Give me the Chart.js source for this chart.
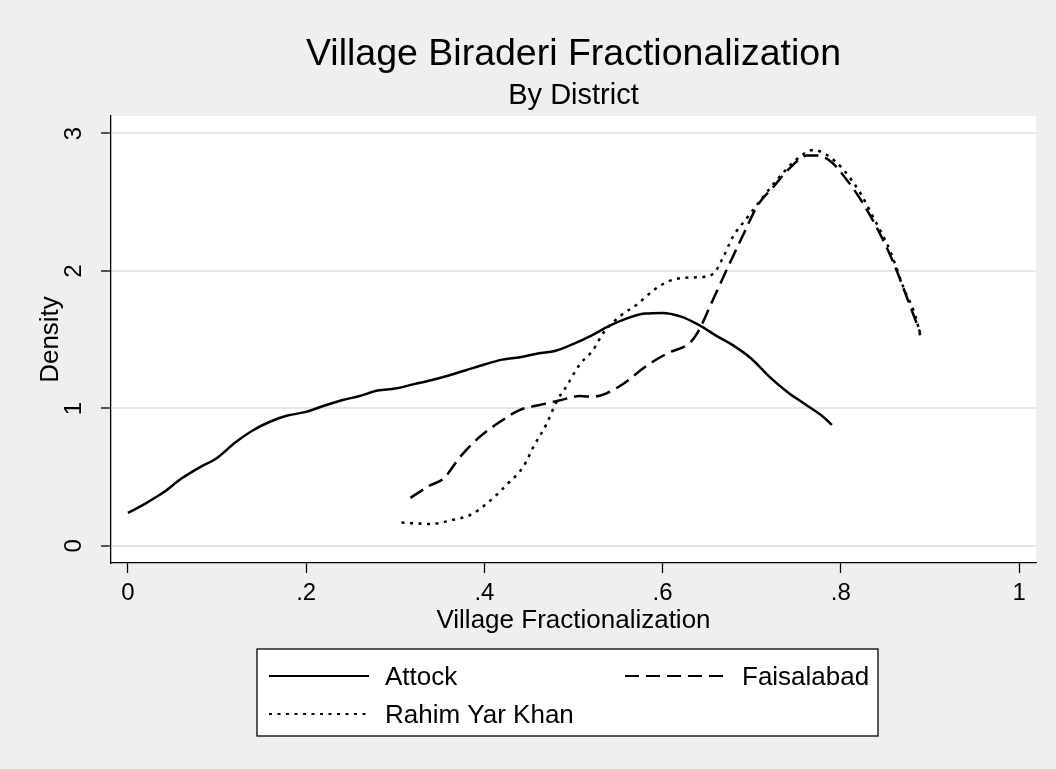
<!DOCTYPE html>
<html>
<head>
<meta charset="utf-8">
<script src="https://cdn.jsdelivr.net/npm/chart.js@4"></script>
<style>
  html, body { margin: 0; padding: 0; background: #efefef; }
  #wrap { width: 1056px; height: 769px; }
</style>
</head>
<body>
<div id="wrap"><canvas id="chart" width="1056" height="769"></canvas></div>
<script>
// ── Data ──────────────────────────────────────────────────────
const xTicks = [0, 0.2, 0.4, 0.6, 0.8, 1];
const xTickLabels = ['0', '.2', '.4', '.6', '.8', '1'];
const yTicks = [0, 1, 2, 3];
const yTickLabels = ['0', '1', '2', '3'];

const seriesNames = ['Attock', 'Faisalabad', 'Rahim Yar Khan'];

const attockX = [0, .02, .04, .06, .08, .10, .12, .14, .16, .18, .20, .22, .24, .26, .28, .30,
                 .32, .34, .36, .38, .40, .42, .44, .46, .48, .50, .52, .54, .56, .58, .60,
                 .62, .64, .66, .68, .70, .72, .74, .76, .78, .79];
const attockY = [.24, .31, .39, .49, .57, .64, .75, .84, .905, .95, .975, 1.02, 1.06, 1.09, 1.13, 1.145,
                 1.175, 1.205, 1.24, 1.28, 1.32, 1.355, 1.372, 1.40, 1.42, 1.47, 1.53, 1.60, 1.655, 1.69, 1.695,
                 1.67, 1.61, 1.53, 1.455, 1.36, 1.23, 1.12, 1.03, .94, .88];

const faisalX = [.317, .339, .354, .373, .395, .418, .44, .462, .485, .507, .522, .537, .556, .582, .605,
                 .631, .640, .653, .672, .691, .706, .724, .743, .762, .773, .788, .807, .825, .844, .859, .874, .889];
const faisalY = [.35, .44, .49, .65, .795, .905, .99, 1.025, 1.06, 1.09, 1.085, 1.11, 1.18, 1.31, 1.40,
                 1.48, 1.56, 1.74, 2.01, 2.27, 2.47, 2.61, 2.75, 2.84, 2.84, 2.80, 2.66, 2.49, 2.27, 2.06, 1.81, 1.55];

const rahimX = [.307, .339, .365, .384, .403, .425, .444, .455, .47, .481, .492, .507, .522, .533, .552, .571,
                .59, .605, .623, .642, .657, .668, .679, .694, .713, .732, .75, .769, .784, .803, .822, .836,
                .855, .87, .885, .889];
const rahimY = [.17, .16, .19, .225, .31, .445, .58, .72, .89, 1.05, 1.16, 1.32, 1.425, 1.545, 1.67, 1.755,
                1.86, 1.92, 1.95, 1.955, 1.98, 2.10, 2.25, 2.38, 2.54, 2.69, 2.81, 2.88, 2.845, 2.735, 2.565, 2.395,
                2.15, 1.885, 1.645, 1.53];

// ── Style ─────────────────────────────────────────────────────
const FONT = '"Liberation Sans", Arial, Helvetica, sans-serif';
const BG = '#efefef';
const GRID = '#e6e6e6';
const DASH = [15, 7];
const DOT = [3, 5.5];

function pairs(xs, ys) {
    return xs.map((x, i) => ({ x: x, y: ys[i] }));
}

// ── Text, background and legend drawn around the plot ─────────
const stataDecor = {
    id: 'stataDecor',
    beforeDraw(chart) {
        const { ctx, chartArea: a } = chart;
        ctx.save();
        ctx.fillStyle = BG;
        ctx.fillRect(0, 0, chart.width, chart.height);
        ctx.fillStyle = '#ffffff';
        ctx.fillRect(a.left, a.top, a.right - a.left, a.bottom - a.top);
        ctx.restore();
    },
    afterDraw(chart) {
        const { ctx, chartArea: a } = chart;
        const xs = chart.scales.x, ys = chart.scales.y;
        const cx = (a.left + a.right) / 2;
        ctx.save();
        ctx.fillStyle = '#000';
        ctx.textBaseline = 'alphabetic';

        // titles
        ctx.textAlign = 'center';
        ctx.font = '37.5px ' + FONT;
        ctx.fillText('Village Biraderi Fractionalization', cx, 65);
        ctx.font = '29px ' + FONT;
        ctx.fillText('By District', cx, 104);

        // x tick labels + title
        ctx.font = '24px ' + FONT;
        xTicks.forEach((v, i) => ctx.fillText(xTickLabels[i], xs.getPixelForValue(v), 600));
        ctx.font = '26px ' + FONT;
        ctx.fillText('Village Fractionalization', cx, 628);

        // y tick labels (rotated) + title
        ctx.font = '24px ' + FONT;
        yTicks.forEach((v, i) => {
            ctx.save();
            ctx.translate(81, ys.getPixelForValue(v));
            ctx.rotate(-Math.PI / 2);
            ctx.fillText(yTickLabels[i], 0, 0);
            ctx.restore();
        });
        ctx.save();
        ctx.font = '26px ' + FONT;
        ctx.translate(58, (a.top + a.bottom) / 2);
        ctx.rotate(-Math.PI / 2);
        ctx.fillText('Density', 0, 0);
        ctx.restore();

        // legend box
        ctx.fillStyle = '#fff';
        ctx.fillRect(257, 649, 621, 87);
        ctx.strokeStyle = '#000';
        ctx.lineWidth = 1.3;
        ctx.strokeRect(257, 649, 621, 87);

        const items = [
            { name: seriesNames[0], dash: [], lx: 269, tx: 385, y: 676 },
            { name: seriesNames[1], dash: [14, 7], lx: 625, tx: 742, y: 676 },
            { name: seriesNames[2], dash: DOT, lx: 269, tx: 385, y: 714 }
        ];
        ctx.font = '26px ' + FONT;
        ctx.textAlign = 'left';
        items.forEach(it => {
            ctx.beginPath();
            ctx.setLineDash(it.dash);
            ctx.lineWidth = 2;
            ctx.moveTo(it.lx, it.y);
            ctx.lineTo(it.lx + 100, it.y);
            ctx.stroke();
            ctx.setLineDash([]);
            ctx.fillStyle = '#000';
            ctx.fillText(it.name, it.tx, it.y + 9);
        });
        ctx.restore();
    }
};

// ── Chart ─────────────────────────────────────────────────────
const ctx = document.getElementById('chart').getContext('2d');
new Chart(ctx, {
    type: 'scatter',
    data: {
        datasets: [
            { label: seriesNames[0], data: pairs(attockX, attockY), borderDash: [] },
            { label: seriesNames[1], data: pairs(faisalX, faisalY), borderDash: DASH },
            { label: seriesNames[2], data: pairs(rahimX, rahimY), borderDash: DOT }
        ].map(d => Object.assign(d, {
            showLine: true,
            borderColor: '#000',
            borderWidth: 2.5,
            pointRadius: 0,
            cubicInterpolationMode: 'monotone',
            fill: false
        }))
    },
    options: {
        responsive: false,
        animation: false,
        events: [],
        layout: { padding: { left: 101, top: 116, right: 20, bottom: 196 } },
        plugins: {
            legend: { display: false },
            title: { display: false },
            tooltip: { enabled: false }
        },
        scales: {
            x: {
                type: 'linear',
                min: -0.019,
                max: 1.019,
                afterBuildTicks: s => { s.ticks = xTicks.map(v => ({ value: v })); },
                ticks: { display: false },
                grid: { color: 'transparent', tickColor: '#000', tickLength: 10, tickWidth: 1.3 },
                border: { display: true, color: '#000', width: 1.3 }
            },
            y: {
                type: 'linear',
                min: -0.124,
                max: 3.127,
                afterBuildTicks: s => { s.ticks = yTicks.map(v => ({ value: v })); },
                ticks: { display: false },
                grid: { color: GRID, lineWidth: 2, tickColor: '#000', tickLength: 10, tickWidth: 1.3 },
                border: { display: true, color: '#000', width: 1.3 }
            }
        }
    },
    plugins: [stataDecor]
});
</script>
</body>
</html>
